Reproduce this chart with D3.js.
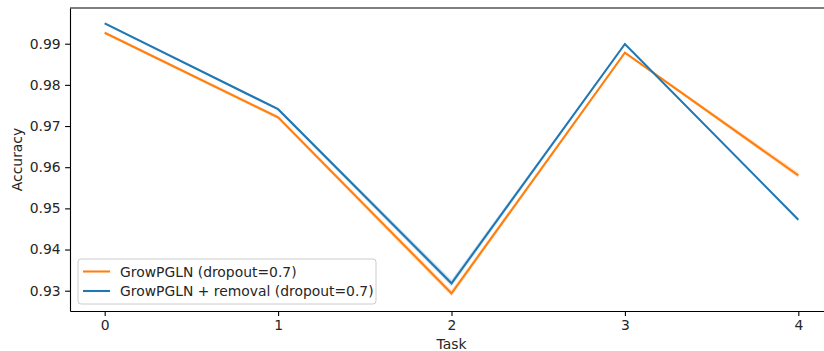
<!DOCTYPE html>
<html>
<head>
<meta charset="utf-8">
<script src="https://cdn.jsdelivr.net/npm/d3@7"></script>
<style>
  body { margin: 0; background: #fff; }
  svg { display: block; font-family: "DejaVu Sans", sans-serif; }
  .axis-label { font-size: 13.9px; fill: #262626; }
  .legend-text { font-size: 13.9px; fill: #262626; }
</style>
</head>
<body>
<div id="chart"></div>
<script>
const tasks = [0, 1, 2, 3, 4];
const xTicks = [0, 1, 2, 3, 4];
const yTicks = [0.93, 0.94, 0.95, 0.96, 0.97, 0.98, 0.99];

const seriesNames = ["GrowPGLN (dropout=0.7)", "GrowPGLN + removal (dropout=0.7)"];
const seriesColors = ["#ff7f0e", "#1f77b4"];

// mean accuracy per task
const growMean = [0.99267, 0.9721, 0.92937, 0.98781, 0.9580];
const removalMean = [0.99495, 0.9741, 0.9318, 0.98993, 0.94726];
// confidence band (lower / upper)
const growLow = [0.99230, 0.97160, 0.92860, 0.98755, 0.95735];
const growHigh = [0.99305, 0.97255, 0.93015, 0.98810, 0.95875];
const removalLow = [0.99470, 0.97380, 0.93100, 0.98970, 0.94695];
const removalHigh = [0.99520, 0.97440, 0.93270, 0.99015, 0.94760];

const width = 824, height = 351;
const margin = { left: 70, top: 8, right: -9, bottom: 40 };

const svg = d3.select("#chart")
    .append("svg")
    .attr("width", width)
    .attr("height", height);

const xScale = d3.scaleLinear()
    .domain([-0.2, 4.2])
    .range([margin.left, width - margin.right]);

const yScale = d3.scaleLinear()
    .domain([0.92507, 0.99867])
    .range([height - margin.bottom, margin.top]);

const series = [
    { mean: growMean, low: growLow, high: growHigh },
    { mean: removalMean, low: removalLow, high: removalHigh }
];

const plot = svg.append("g");

// bands first, then lines
series.forEach((s, i) => {
    const area = d3.area()
        .x((d, j) => xScale(tasks[j]))
        .y0((d, j) => yScale(s.low[j]))
        .y1((d, j) => yScale(s.high[j]));
    plot.append("path")
        .datum(tasks)
        .attr("d", area)
        .attr("fill", seriesColors[i])
        .attr("fill-opacity", 0.2);
});

series.forEach((s, i) => {
    const line = d3.line()
        .x((d, j) => xScale(tasks[j]))
        .y((d, j) => yScale(s.mean[j]));
    plot.append("path")
        .datum(tasks)
        .attr("d", line)
        .attr("fill", "none")
        .attr("stroke", seriesColors[i])
        .attr("stroke-width", 2.08);
});

// axes
const bottomAxis = d3.axisBottom(xScale)
    .tickValues(xTicks)
    .tickFormat(d3.format("d"))
    .tickSizeInner(4.9)
    .tickSizeOuter(0)
    .tickPadding(4.5);

svg.append("g")
    .attr("transform", `translate(0, ${height - margin.bottom})`)
    .call(bottomAxis)
    .call(g => g.select(".domain").attr("stroke", "#000").attr("stroke-width", 1.1))
    .call(g => g.selectAll(".tick line").attr("stroke", "#000").attr("stroke-width", 1.1));

const leftAxis = d3.axisLeft(yScale)
    .tickValues(yTicks)
    .tickFormat(d3.format(".2f"))
    .tickSizeInner(4.9)
    .tickSizeOuter(0)
    .tickPadding(4.5);

svg.append("g")
    .attr("transform", `translate(${margin.left}, 0)`)
    .call(leftAxis)
    .call(g => g.select(".domain").attr("stroke", "#000").attr("stroke-width", 1.1))
    .call(g => g.selectAll(".tick line").attr("stroke", "#000").attr("stroke-width", 1.1));

// top and right spines
svg.append("line")
    .attr("x1", margin.left).attr("x2", width - margin.right)
    .attr("y1", margin.top).attr("y2", margin.top)
    .attr("stroke", "#000").attr("stroke-width", 1.1);
svg.append("line")
    .attr("x1", width - margin.right).attr("x2", width - margin.right)
    .attr("y1", margin.top).attr("y2", height - margin.bottom)
    .attr("stroke", "#000").attr("stroke-width", 1.1);

svg.selectAll(".tick text")
    .attr("font-family", "DejaVu Sans")
    .attr("font-size", 13.9)
    .attr("fill", "#262626");

// axis labels
svg.append("text")
    .attr("class", "axis-label")
    .attr("x", xScale(2))
    .attr("y", 349)
    .attr("text-anchor", "middle")
    .text("Task");

svg.append("text")
    .attr("class", "axis-label")
    .attr("transform", `translate(22, ${(margin.top + height - margin.bottom) / 2}) rotate(-90)`)
    .attr("text-anchor", "middle")
    .text("Accuracy");

// legend
const legend = svg.append("g").attr("transform", "translate(78, 259)");
legend.append("rect")
    .attr("width", 298)
    .attr("height", 45)
    .attr("rx", 3)
    .attr("fill", "#fff")
    .attr("fill-opacity", 0.8)
    .attr("stroke", "#ccc")
    .attr("stroke-width", 1);

seriesNames.forEach((name, i) => {
    const y = 12.5 + i * 19.5;
    legend.append("line")
        .attr("x1", 5).attr("x2", 32)
        .attr("y1", y).attr("y2", y)
        .attr("stroke", seriesColors[i])
        .attr("stroke-width", 2.08);
    legend.append("text")
        .attr("class", "legend-text")
        .attr("x", 42)
        .attr("y", y + 5)
        .text(name);
});
</script>
</body>
</html>
